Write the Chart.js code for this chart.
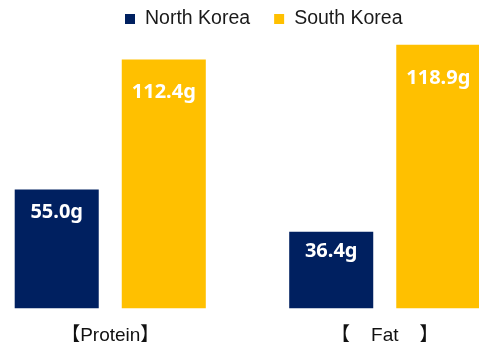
<!DOCTYPE html>
<html>
<head>
<meta charset="utf-8">
<script src="https://cdn.jsdelivr.net/npm/chart.js@4"></script>
<style>
  html, body { margin: 0; padding: 0; background: #fff; overflow: hidden; }
  #graph-container { position: relative; width: 479px; height: 353px; overflow: hidden; }
  /* plot is a bit larger than the window; its outer edges are cut off */
  #myChart { position: absolute; left: -27px; top: 0; }
</style>
</head>
<body>
<div id="graph-container"><canvas id="myChart" width="549" height="363"></canvas></div>
<script>
var categories = ['【Protein】', '【    Fat    】'];
var northKorea = [55.0, 36.4];
var southKorea = [112.4, 118.9];
var seriesNames = ['North Korea', 'South Korea'];
var seriesColors = ['#002060', '#ffc000'];

// white "xx.xg" text near the top of every bar
var valueLabels = {
    id: 'valueLabels',
    afterDatasetsDraw: function (chart) {
        var ctx = chart.ctx;
        ctx.save();
        ctx.font = "bold 20px 'Noto Sans', sans-serif";
        ctx.fillStyle = '#ffffff';
        ctx.textAlign = 'center';
        ctx.textBaseline = 'middle';
        chart.data.datasets.forEach(function (ds, i) {
            chart.getDatasetMeta(i).data.forEach(function (bar, j) {
                var h = bar.base - bar.y;
                ctx.fillText(ds.data[j].toFixed(1) + 'g', bar.x, bar.y + 14 + 0.072 * h);
            });
        });
        ctx.restore();
    }
};

// small square swatches + names across the top
var topLegend = {
    id: 'topLegend',
    afterDraw: function (chart) {
        var ctx = chart.ctx;
        var x = 152;
        var y = 19;
        ctx.save();
        ctx.font = "19.5px 'Liberation Sans', Arial, sans-serif";
        ctx.textBaseline = 'middle';
        chart.data.datasets.forEach(function (ds) {
            ctx.fillStyle = ds.backgroundColor;
            ctx.fillRect(x, y - 5, 10, 10);
            x += 20;
            ctx.fillStyle = '#1a1a1a';
            ctx.fillText(ds.label, x, y);
            x += ctx.measureText(ds.label).width + 24;
        });
        ctx.restore();
    }
};

var ctx = document.getElementById('myChart').getContext('2d');
var myChart = new Chart(ctx, {
    type: 'bar',
    data: {
        labels: categories,
        datasets: [{
            label: seriesNames[0],
            data: northKorea,
            backgroundColor: seriesColors[0]
        }, {
            label: seriesNames[1],
            data: southKorea,
            backgroundColor: seriesColors[1]
        }]
    },
    options: {
        responsive: false,
        animation: false,
        layout: {padding: {left: 0, right: 0, top: 40, bottom: 0}},
        datasets: {bar: {categoryPercentage: 0.78, barPercentage: 0.785}},
        plugins: {legend: {display: false}, tooltip: {enabled: false}},
        scales: {
            x: {
                grid: {display: false, drawTicks: false},
                border: {display: false},
                ticks: {
                    padding: 16,
                    color: '#111111',
                    font: {family: "'Liberation Sans', 'Noto Sans CJK KR', sans-serif", size: 19}
                }
            },
            y: {display: false, min: 2.6, max: 121}
        }
    },
    plugins: [valueLabels, topLegend]
});
</script>
</body>
</html>
